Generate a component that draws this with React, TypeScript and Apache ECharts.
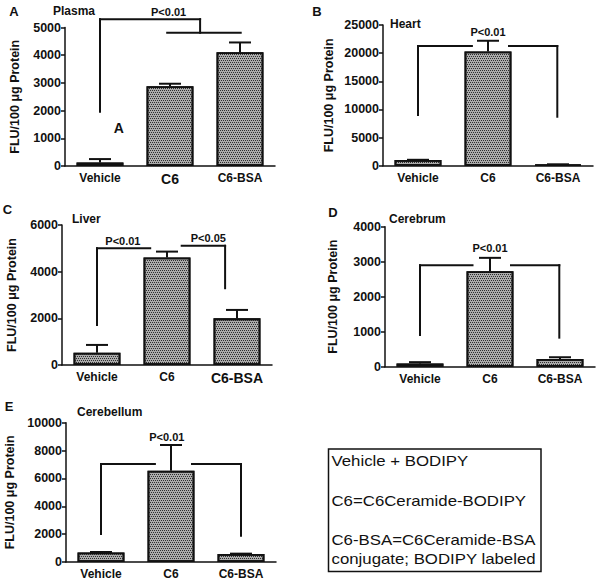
import React, { useEffect, useRef } from "react";
import * as echarts from "echarts";

const categories = ["Vehicle", "C6", "C6-BSA"];
const panelLetters = ["A", "B", "C", "D", "E"];
const tissues = ["Plasma", "Heart", "Liver", "Cerebrum", "Cerebellum"];

const plasmaMeans = [130, 2880, 4110];
const plasmaErrTops = [250, 2970, 4460];
const heartMeans = [1000, 20300, 200];
const heartErrTops = [1050, 22200, 250];
const liverMeans = [530, 4610, 2000];
const liverErrTops = [860, 4860, 2360];
const cerebrumMeans = [90, 2730, 220];
const cerebrumErrTops = [130, 3110, 270];
const cerebellumMeans = [690, 6550, 570];
const cerebellumErrTops = [720, 8400, 600];

const yMaxes = [5000, 25000, 6000, 4000, 10000];
const ySteps = [1000, 5000, 2000, 1000, 2000];

// bracket segments: [x1, y1, x2, y2] in data units
const plasmaSegments = [
  [0, 1960, 0, 5300],
  [0, 5300, 1.43, 5300],
  [1.43, 5300, 1.43, 4810],
  [0.96, 4810, 2.01, 4810],
];
const heartSegments = [
  [0, 9000, 0, 21270],
  [0, 21270, 0.77, 21270],
  [1.3, 21270, 1.99, 21270],
  [1.99, 21270, 1.99, 8700],
];
const liverSegments = [
  [0, 1710, 0, 5000],
  [0, 5000, 0.76, 5000],
  [1.21, 5110, 1.83, 5110],
  [1.83, 5110, 1.83, 3290],
];
const cerebrumSegments = [
  [0, 905, 0, 2900],
  [0, 2900, 0.75, 2900],
  [1.3, 2900, 1.99, 2900],
  [1.99, 2900, 1.99, 830],
];
const cerebellumSegments = [
  [0, 2010, 0, 7030],
  [0, 7030, 0.77, 7030],
  [1.3, 7030, 2.0, 7030],
  [2.0, 7030, 2.0, 1890],
];

// notes: [x, y, text] in data units
const plasmaNotes = [[0.98, 5560, "P<0.01"], [0.27, 1370, "A"]];
const heartNotes = [[1.0, 23760, "P<0.01"]];
const liverNotes = [[0.37, 5330, "P<0.01"], [1.59, 5440, "P<0.05"]];
const cerebrumNotes = [[1.0, 3390, "P<0.01"]];
const cerebellumNotes = [[0.94, 9000, "P<0.01"]];

const legendLines = [
  "Vehicle + BODIPY",
  "C6=C6Ceramide-BODIPY",
  "C6-BSA=C6Ceramide-BSA",
  "conjugate; BODIPY labeled",
];

const yAxisName = "FLU/100 \u03bcg Protein";

const FONT = "'Liberation Sans', Arial, Helvetica, sans-serif";
const INK = "#111";

const means = [plasmaMeans, heartMeans, liverMeans, cerebrumMeans, cerebellumMeans];
const errTops = [plasmaErrTops, heartErrTops, liverErrTops, cerebrumErrTops, cerebellumErrTops];
const segments = [plasmaSegments, heartSegments, liverSegments, cerebrumSegments, cerebellumSegments];
const notes = [plasmaNotes, heartNotes, liverNotes, cerebrumNotes, cerebellumNotes];

const grids = [
  { left: 65, top: 27.5, width: 210, height: 138.5 },
  { left: 383, top: 25, width: 210, height: 140.7 },
  { left: 62, top: 225, width: 210, height: 140 },
  { left: 385, top: 226.7, width: 210, height: 140 },
  { left: 66, top: 422.7, width: 210, height: 139.3 },
];
const nameGaps = [43.5, 47.5, 43.5, 45.5, 49.5];
const bigLabel: Record<number, number> = { 0: 1, 2: 2 };
const letterPos = [
  [14, 11.5],
  [317, 11],
  [7.5, 209],
  [333, 212.5],
  [9, 406],
];
const titlePos = [
  [53, 10.5],
  [390, 24],
  [72, 219],
  [389, 219],
  [77, 412],
];

function buildOption() {
  const xAxis: any[] = [];
  const yAxis: any[] = [];
  const series: any[] = [];
  grids.forEach((g, i) => {
    xAxis.push({
      type: "category",
      gridIndex: i,
      data: categories.map((c, k) =>
        bigLabel[i] === k ? { value: c, textStyle: { fontSize: 14 } } : c
      ),
      axisLine: { onZero: false, lineStyle: { color: INK, width: 1.5 } },
      axisTick: { alignWithLabel: true, length: 4, lineStyle: { color: INK, width: 1.5 } },
      axisLabel: { color: INK, fontWeight: "bold", fontSize: 12, margin: 6, fontFamily: FONT },
    });
  });
  grids.forEach((g, i) => {
    xAxis.push({ type: "value", gridIndex: i, show: false, min: -0.5, max: 2.5 });
  });
  grids.forEach((g, i) => {
    yAxis.push({
      type: "value",
      gridIndex: i,
      min: 0,
      max: yMaxes[i],
      interval: ySteps[i],
      splitLine: { show: false },
      axisLine: { show: true, onZero: false, lineStyle: { color: INK, width: 1.5 } },
      axisTick: { show: true, length: 4, lineStyle: { color: INK, width: 1.5 } },
      axisLabel: {
        color: INK,
        fontWeight: "bold",
        fontSize: 12.5,
        margin: 4,
        fontFamily: FONT,
        formatter: (v: number) => String(v),
      },
      name: yAxisName,
      nameLocation: "middle",
      nameGap: nameGaps[i],
      nameTextStyle: { color: INK, fontWeight: "bold", fontSize: 12.5, fontFamily: FONT },
    });
  });

  grids.forEach((g, i) => {
    series.push({
      type: "bar",
      xAxisIndex: i,
      yAxisIndex: i,
      data: means[i],
      barWidth: "67%",
      itemStyle: {
        color: "#ababab",
        borderColor: INK,
        borderWidth: 1.8,
        decal: {
          symbol: "rect",
          symbolSize: 1,
          color: "#2e2e2e",
          dashArrayX: [[1, 1], [0, 1, 1, 0]],
          dashArrayY: [1, 1],
          rotation: 0,
        },
      },
      z: 2,
    });
    series.push({
      type: "custom",
      xAxisIndex: i,
      yAxisIndex: i,
      z: 3,
      data: means[i].map((m, k) => [k, m, errTops[i][k]]),
      renderItem: (params: any, api: any) => {
        const x = api.value(0);
        const p1 = api.coord([x, api.value(1)]);
        const p2 = api.coord([x, api.value(2)]);
        const half = 11;
        const st = { stroke: INK, lineWidth: 2 };
        return {
          type: "group",
          children: [
            { type: "line", shape: { x1: p1[0], y1: p1[1], x2: p2[0], y2: p2[1] }, style: st },
            { type: "line", shape: { x1: p2[0] - half, y1: p2[1], x2: p2[0] + half, y2: p2[1] }, style: st },
          ],
        };
      },
    });
    series.push({
      type: "custom",
      xAxisIndex: grids.length + i,
      yAxisIndex: i,
      z: 4,
      encode: { x: [0, 2], y: [1, 3] },
      data: segments[i],
      renderItem: (params: any, api: any) => {
        const a = api.coord([api.value(0), api.value(1)]);
        const b = api.coord([api.value(2), api.value(3)]);
        return {
          type: "line",
          shape: { x1: a[0], y1: a[1], x2: b[0], y2: b[1] },
          style: { stroke: INK, lineWidth: 2, lineCap: "square" },
        };
      },
    });
    const nts = notes[i];
    series.push({
      type: "custom",
      xAxisIndex: grids.length + i,
      yAxisIndex: i,
      z: 5,
      data: nts.map((n) => [n[0], n[1]]),
      renderItem: (params: any, api: any) => {
        const p = api.coord([api.value(0), api.value(1)]);
        const txt = String(nts[params.dataIndex][2]);
        return {
          type: "text",
          x: p[0],
          y: p[1],
          style: {
            text: txt,
            fill: INK,
            fontSize: txt.length === 1 ? 14 : 11,
            fontWeight: "bold",
            fontFamily: FONT,
            align: "center",
            verticalAlign: "middle",
          },
        };
      },
    });
  });

  const graphic: any[] = [];
  panelLetters.forEach((l, i) => {
    graphic.push({
      type: "text",
      x: letterPos[i][0],
      y: letterPos[i][1],
      style: { text: l, fill: INK, fontSize: 13, fontWeight: "bold", fontFamily: FONT, align: "center", verticalAlign: "middle" },
    });
    graphic.push({
      type: "text",
      x: titlePos[i][0],
      y: titlePos[i][1],
      style: { text: tissues[i], fill: INK, fontSize: 12, fontWeight: "bold", fontFamily: FONT, align: "left", verticalAlign: "middle" },
    });
  });
  graphic.push({
    type: "rect",
    shape: { x: 328.5, y: 449, width: 212.5, height: 122.5 },
    style: { fill: "#fff", stroke: INK, lineWidth: 1.5 },
  });
  const legendY = [461.5, 501.5, 540.5, 559.5];
  legendLines.forEach((t, k) => {
    graphic.push({
      type: "text",
      x: 331.5,
      y: legendY[k],
      scaleX: 1.2,
      style: { text: t, fill: INK, fontSize: 14, fontFamily: FONT, align: "left", verticalAlign: "middle" },
    });
  });

  return {
    animation: false,
    backgroundColor: "#fff",
    textStyle: { fontFamily: FONT },
    grid: grids.map((g) => ({ ...g, containLabel: false })),
    xAxis,
    yAxis,
    series,
    graphic,
  };
}

export default function App() {
  const ref = useRef<HTMLDivElement>(null);
  useEffect(() => {
    if (!ref.current) return;
    const chart = echarts.init(ref.current, null, { renderer: "svg" });
    chart.setOption(buildOption() as any);
    return () => chart.dispose();
  }, []);
  return (
    <div
      ref={ref}
      style={{ position: "absolute", left: 0, top: 0, width: 600, height: 583, background: "#fff" }}
    />
  );
}
